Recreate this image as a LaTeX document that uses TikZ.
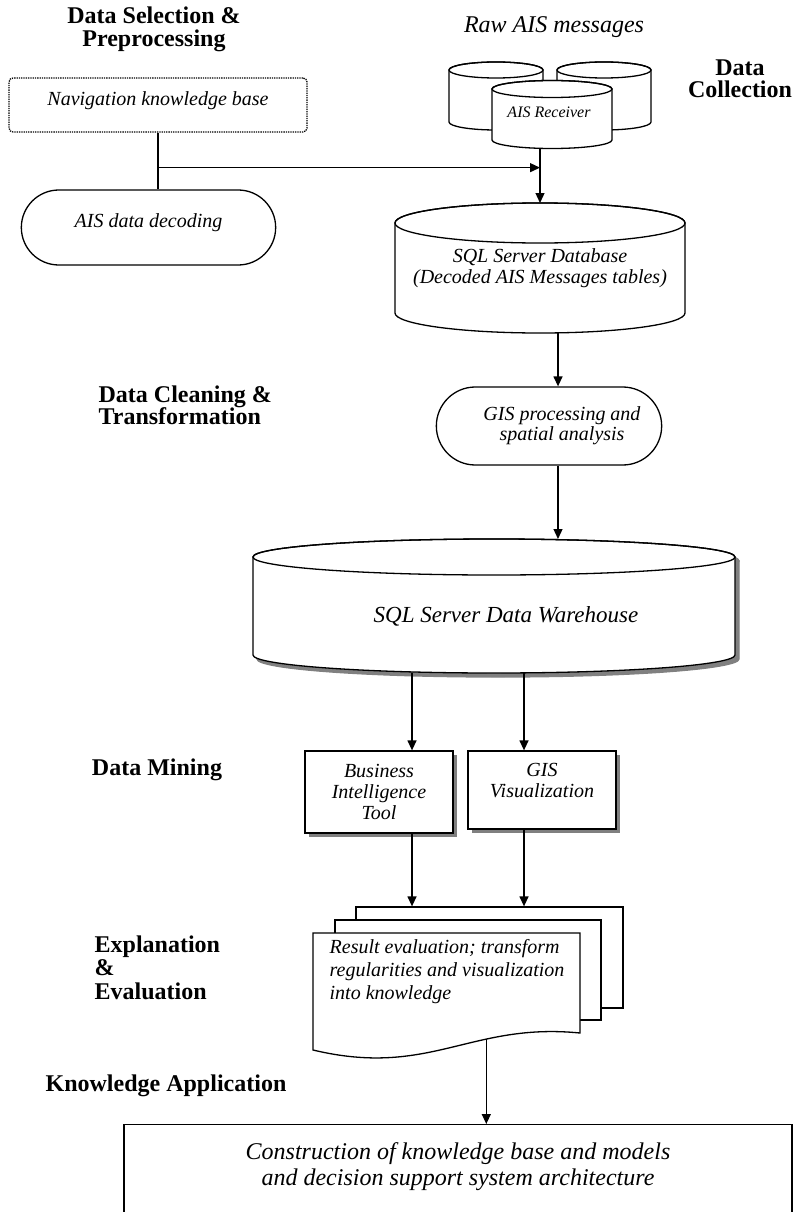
\documentclass[tikz,border=0pt]{standalone}
\usepackage{fontspec}
\setmainfont{Liberation Serif}
\usetikzlibrary{arrows.meta,shapes.misc,shadows,calc}

% a database drum: fill, name, x, top y, bottom y, x radius, y radius
\newcommand{\drum}[7][white]{%
	\draw[fill=#1] ({#3-#6},#4) -- ({#3-#6},#5)
		arc[start angle=180,end angle=0,x radius=#6,y radius=#7]
		-- ({#3+#6},#4)
		arc[start angle=0,end angle=-180,x radius=#6,y radius=#7] -- cycle;
	\draw (#3,#4) ellipse[x radius=#6,y radius=#7];
	\coordinate (#2-top) at (#3,{#4-#7});
	\coordinate (#2-bot) at (#3,{#5+#7});
}

\begin{document}
\begin{tikzpicture}[
		x=1pt, y=-1pt, line width=1.3pt,
		flow/.style={-{Triangle[length=10pt,width=9pt]}},
		stage/.style={font=\fontsize{24}{22.5}\selectfont\bfseries, align=center, inner sep=0pt},
		note/.style={font=\fontsize{20}{21}\selectfont\itshape, align=center},
		terminal/.style={note, draw, rounded rectangle},
		panel/.style={note, draw, fill=white, general shadow={fill=gray, shadow xshift=4pt, shadow yshift=-4pt}}
	]
	\useasboundingbox (0,0) rectangle (794,1212);

	% stage names
	\node[stage] (selLbl) at (154,29.5) {Data Selection \&\\Preprocessing};
	\node[stage] (collLbl) at (740,79) {Data\\Collection};
	\node[stage, align=left, anchor=west] (cleanLbl) at (98,405.5) {Data Cleaning \&\\Transformation};
	\node[stage] (mineLbl) at (157,769.5) {Data Mining};
	\node[stage, align=left, anchor=west, font=\fontsize{24}{23.5}\selectfont\bfseries] (evalLbl) at (94,967.5) {Explanation\\\&\\Evaluation};
	\node[stage] (appLbl) at (166,1086) {Knowledge Application};

	% selection and collection
	\node[note, draw, densely dotted, rounded corners=4pt, minimum width=298, minimum height=54, text depth=13.7pt] (nav) at (158,105) {Navigation knowledge base};
	\node[terminal, minimum width=261, minimum height=75, text depth=14.7pt] (decode) at (148.5,227.5) {AIS data decoding};

	\node[note, font=\fontsize{24}{26}\selectfont\itshape, inner sep=0pt] (raw) at (554,27.3) {Raw AIS messages};
	\drum{rcvL}{496}{70}{122}{47}{8}
	\drum{rcvR}{604}{70}{122}{47}{8}
	\drum{rcvF}{552}{89}{140}{60}{8.5}
	\node[note, font=\fontsize{16}{18}\selectfont\itshape] (rcv) at (549,112) {AIS Receiver};

	\drum{db}{540}{223}{313}{145}{20}
	\node[note] (dbTxt) at (540,268) {SQL Server Database\\(Decoded AIS Messages tables)};

	\coordinate (jn) at ($(nav.south)+(0,35)$);
	\draw (nav.south) -- (nav.south |- decode.north);
	\draw[flow] (jn) -- (jn -| db-top);
	\draw[flow] (rcvF-bot -| db-top) -- (db-top);

	% cleaning and transformation
	\node[terminal, minimum width=232, minimum height=78] (gisproc) at (549,426) {};
	\node[note, font=\fontsize{20}{20}\selectfont\itshape] (gisTxt) at (562,425.5) {GIS processing and\\spatial analysis};
	\coordinate (spine) at (558,0);
	\draw[flow] (db-bot -| spine) -- (gisproc.north -| spine);

	\begin{scope}[shift={(4,4)}, gray]
		\drum[gray]{dwShade}{494}{557}{655}{241}{18}
	\end{scope}
	\drum{dw}{494}{557}{655}{241}{18}
	\node[note, font=\fontsize{23}{25}\selectfont\itshape] (dwTxt) at (506,616) {SQL Server Data Warehouse};
	\draw[flow] (gisproc.south -| spine) -- (dw-top -| spine);

	% mining
	\coordinate (tapL) at (412,0);
	\coordinate (tapR) at (524,0);
	\node[panel, minimum width=148, minimum height=82] (bi) at (379,792) {Business\\Intelligence\\Tool};
	\node[panel, minimum width=148, minimum height=78, text depth=19pt] (gisvis) at (542,790) {GIS\\Visualization};
	\draw[flow] (dw-bot -| tapL) -- (bi.north -| tapL);
	\draw[flow] (dw-bot -| tapR) -- (gisvis.north -| tapR);

	% evaluation
	\node[draw, fill=white, minimum width=267, minimum height=101] (docC) at (489.5,957.5) {};
	\node[draw, fill=white, minimum width=266, minimum height=100] (docB) at (468,970) {};
	\draw[fill=white] (313,933) -- (580,933) -- (580,1033)
		.. controls (470,1022) and (430,1078) .. (313,1050) coordinate[pos=0.34] (docBot) -- cycle;
	\node[note, align=left, anchor=west, inner sep=0pt, font=\fontsize{20}{23}\selectfont\itshape] (doc) at (329,972) {Result evaluation; transform\\regularities and visualization\\into knowledge};
	\draw[flow] (bi.south -| tapL) -- (docC.north -| tapL);
	\draw[flow] (gisvis.south -| tapR) -- (docC.north -| tapR);

	% application
	\node[note, draw, font=\fontsize{24}{26}\selectfont\itshape, minimum width=668, minimum height=130, text depth=52pt, anchor=north] (kb) at (458,1124) {Construction of knowledge base and models\\and decision support system architecture};
	\draw[flow] (docBot) -- (docBot |- kb.north);
\end{tikzpicture}
\end{document}
